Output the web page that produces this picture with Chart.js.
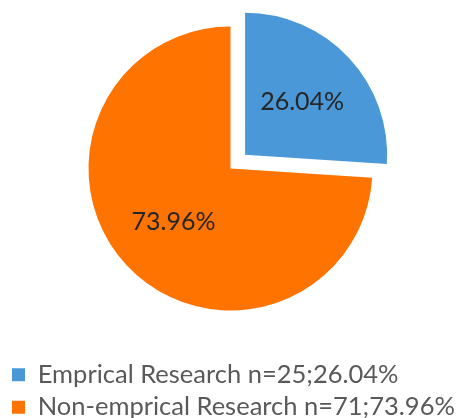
<!DOCTYPE html>
<html>
<head>
<meta charset="utf-8">
<script src="https://cdn.jsdelivr.net/npm/chart.js@4"></script>
<style>
  html, body { margin: 0; padding: 0; background: #fff; overflow: hidden; }
  #wrap { width: 461px; height: 430px; position: relative; }
</style>
</head>
<body>
<div id="wrap"><canvas id="chart"></canvas></div>
<script>
// Chart data
const categories = ["Emprical Research", "Non-emprical Research"];
const counts = [25, 71];
const percents = [26.04, 73.96];
const colors = ["#4A98D8", "#FF7300"];

// Draw the percentage inside each slice
const sliceLabels = {
  id: "sliceLabels",
  afterDatasetsDraw(chart) {
    const ctx = chart.ctx;
    const meta = chart.getDatasetMeta(0);
    ctx.save();
    ctx.font = "25px Lato";
    ctx.fillStyle = "#262626";
    ctx.textAlign = "center";
    ctx.textBaseline = "middle";
    meta.data.forEach((arc, i) => {
      const mid = (arc.startAngle + arc.endAngle) / 2;
      const shift = (arc.options.offset || 0) / 4;
      const r = shift + arc.outerRadius * 0.55;
      ctx.fillText(percents[i].toFixed(2) + "%", arc.x + Math.cos(mid) * r, arc.y + Math.sin(mid) * r);
    });
    ctx.restore();
  }
};

new Chart(document.getElementById("chart"), {
  type: "pie",
  data: {
    labels: categories,
    datasets: [{
      data: counts,
      backgroundColor: colors,
      borderWidth: 0,
      hoverOffset: 0,
      offset: [80, 0]
    }]
  },
  options: {
    responsive: true,
    maintainAspectRatio: false,
    animation: false,
    radius: 142,
    layout: { padding: { top: 17, left: 5, right: 5 } },
    plugins: {
      tooltip: { enabled: false },
      legend: {
        position: "bottom",
        align: "start",
        title: { display: true, text: " ", font: { size: 10 }, padding: { top: 23, bottom: 0 } },
        labels: {
          boxWidth: 13,
          boxHeight: 13,
          padding: 7,
          color: "#595959",
          font: { family: "Lato", size: 25.5 },
          generateLabels(chart) {
            return categories.map((name, i) => ({
              text: name + " n=" + counts[i] + ";" + percents[i].toFixed(2) + "%",
              fillStyle: colors[i],
              strokeStyle: colors[i],
              lineWidth: 0,
              fontColor: "#595959",
              index: i
            }));
          }
        }
      }
    }
  },
  plugins: [sliceLabels]
});
</script>
</body>
</html>
